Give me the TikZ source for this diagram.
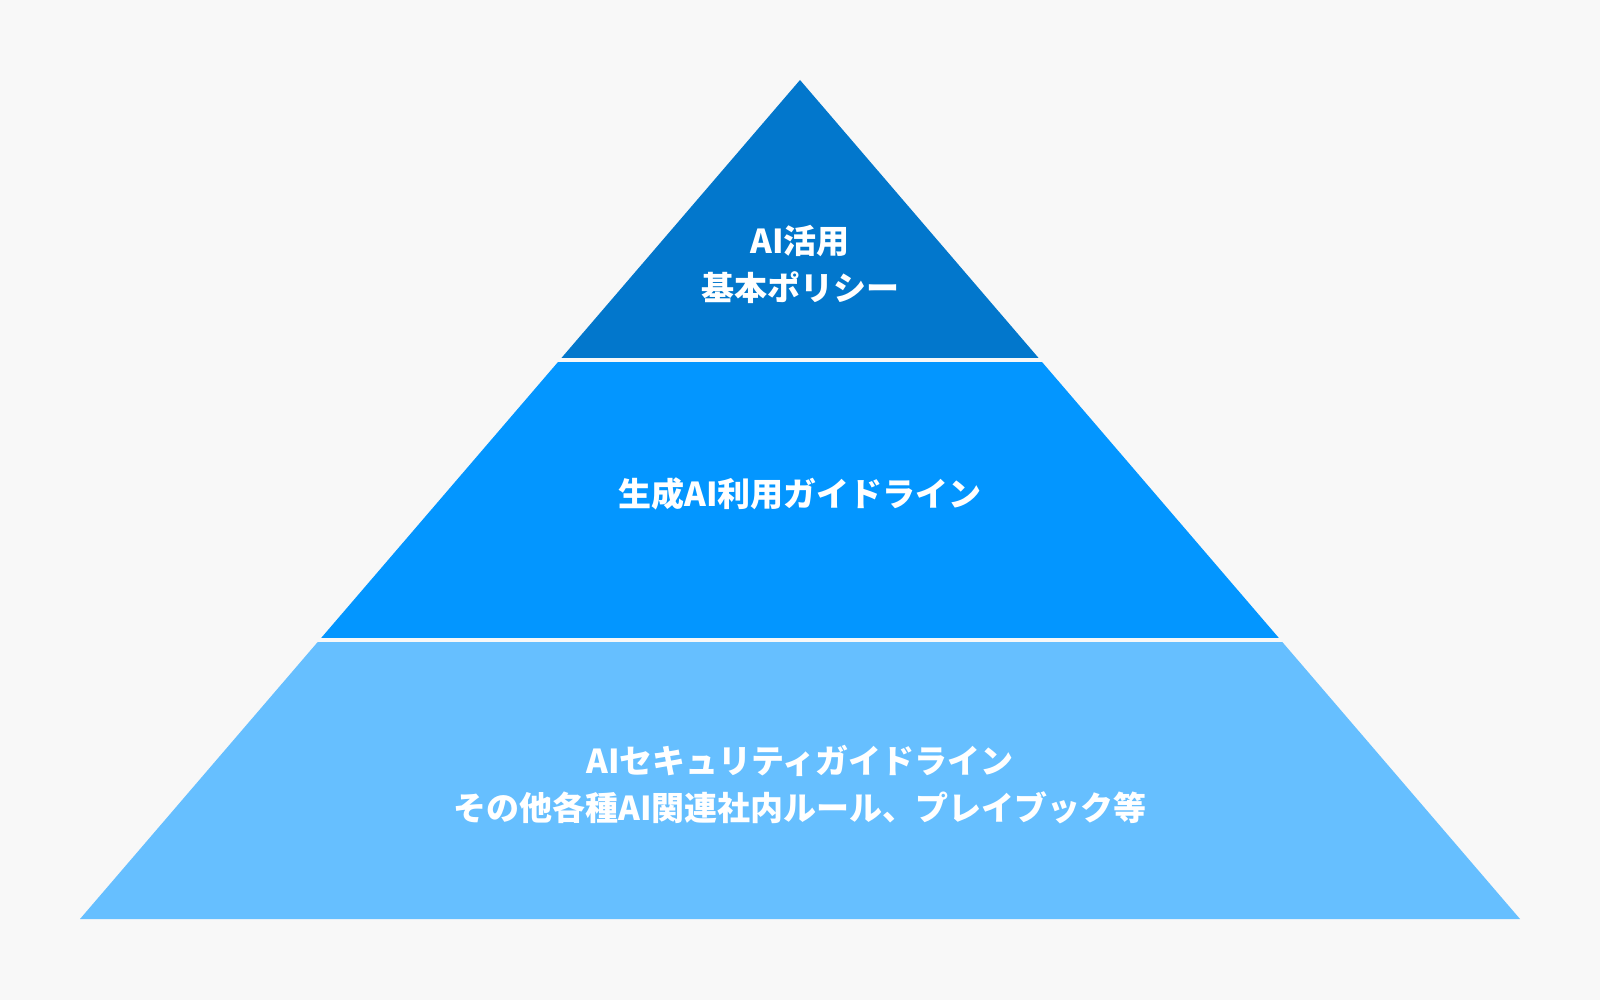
\documentclass[tikz,border=0pt]{standalone}
\usepackage{fontspec}
\newfontfamily\cjk{Noto Sans CJK JP}
\definecolor{bg}{HTML}{F8F8F8}
\definecolor{topblue}{HTML}{0277CC}
\definecolor{midblue}{HTML}{0396FF}
\definecolor{lowblue}{HTML}{66BFFF}
\tikzset{
  label/.style={text=white, align=center, font=\cjk\bfseries\fontsize{33}{47}\selectfont}
}
\begin{document}
\begin{tikzpicture}[x=1pt, y=-1pt]

    % Background
    \fill[bg] (0,0) rectangle (1600,1000);
    \useasboundingbox (0,0) rectangle (1600,1000);

    % Corners of the pyramid
    \coordinate (apex) at (800,80);
    \coordinate (baseL) at (80,919);
    \coordinate (baseR) at (1520,919);

    % Draw the three bands
    \begin{scope}
      \clip (0,0) rectangle (1600,357);
      \fill[topblue] (apex) -- (baseL) -- (baseR) -- cycle;
    \end{scope}
    \begin{scope}
      \clip (0,362) rectangle (1600,637);
      \fill[midblue] (apex) -- (baseL) -- (baseR) -- cycle;
    \end{scope}
    \begin{scope}
      \clip (0,642) rectangle (1600,1000);
      \fill[lowblue] (apex) -- (baseL) -- (baseR) -- cycle;
    \end{scope}

    % Label the bands
    \node[label] (policy) at (800,264) {AI活用\\基本ポリシー};
    \node[label] (guide) at (800,494) {生成AI利用ガイドライン};
    \node[label] (rules) at (800,785) {AIセキュリティガイドライン\\その他各種AI関連社内ルール、プレイブック等};
\end{tikzpicture}
\end{document}
